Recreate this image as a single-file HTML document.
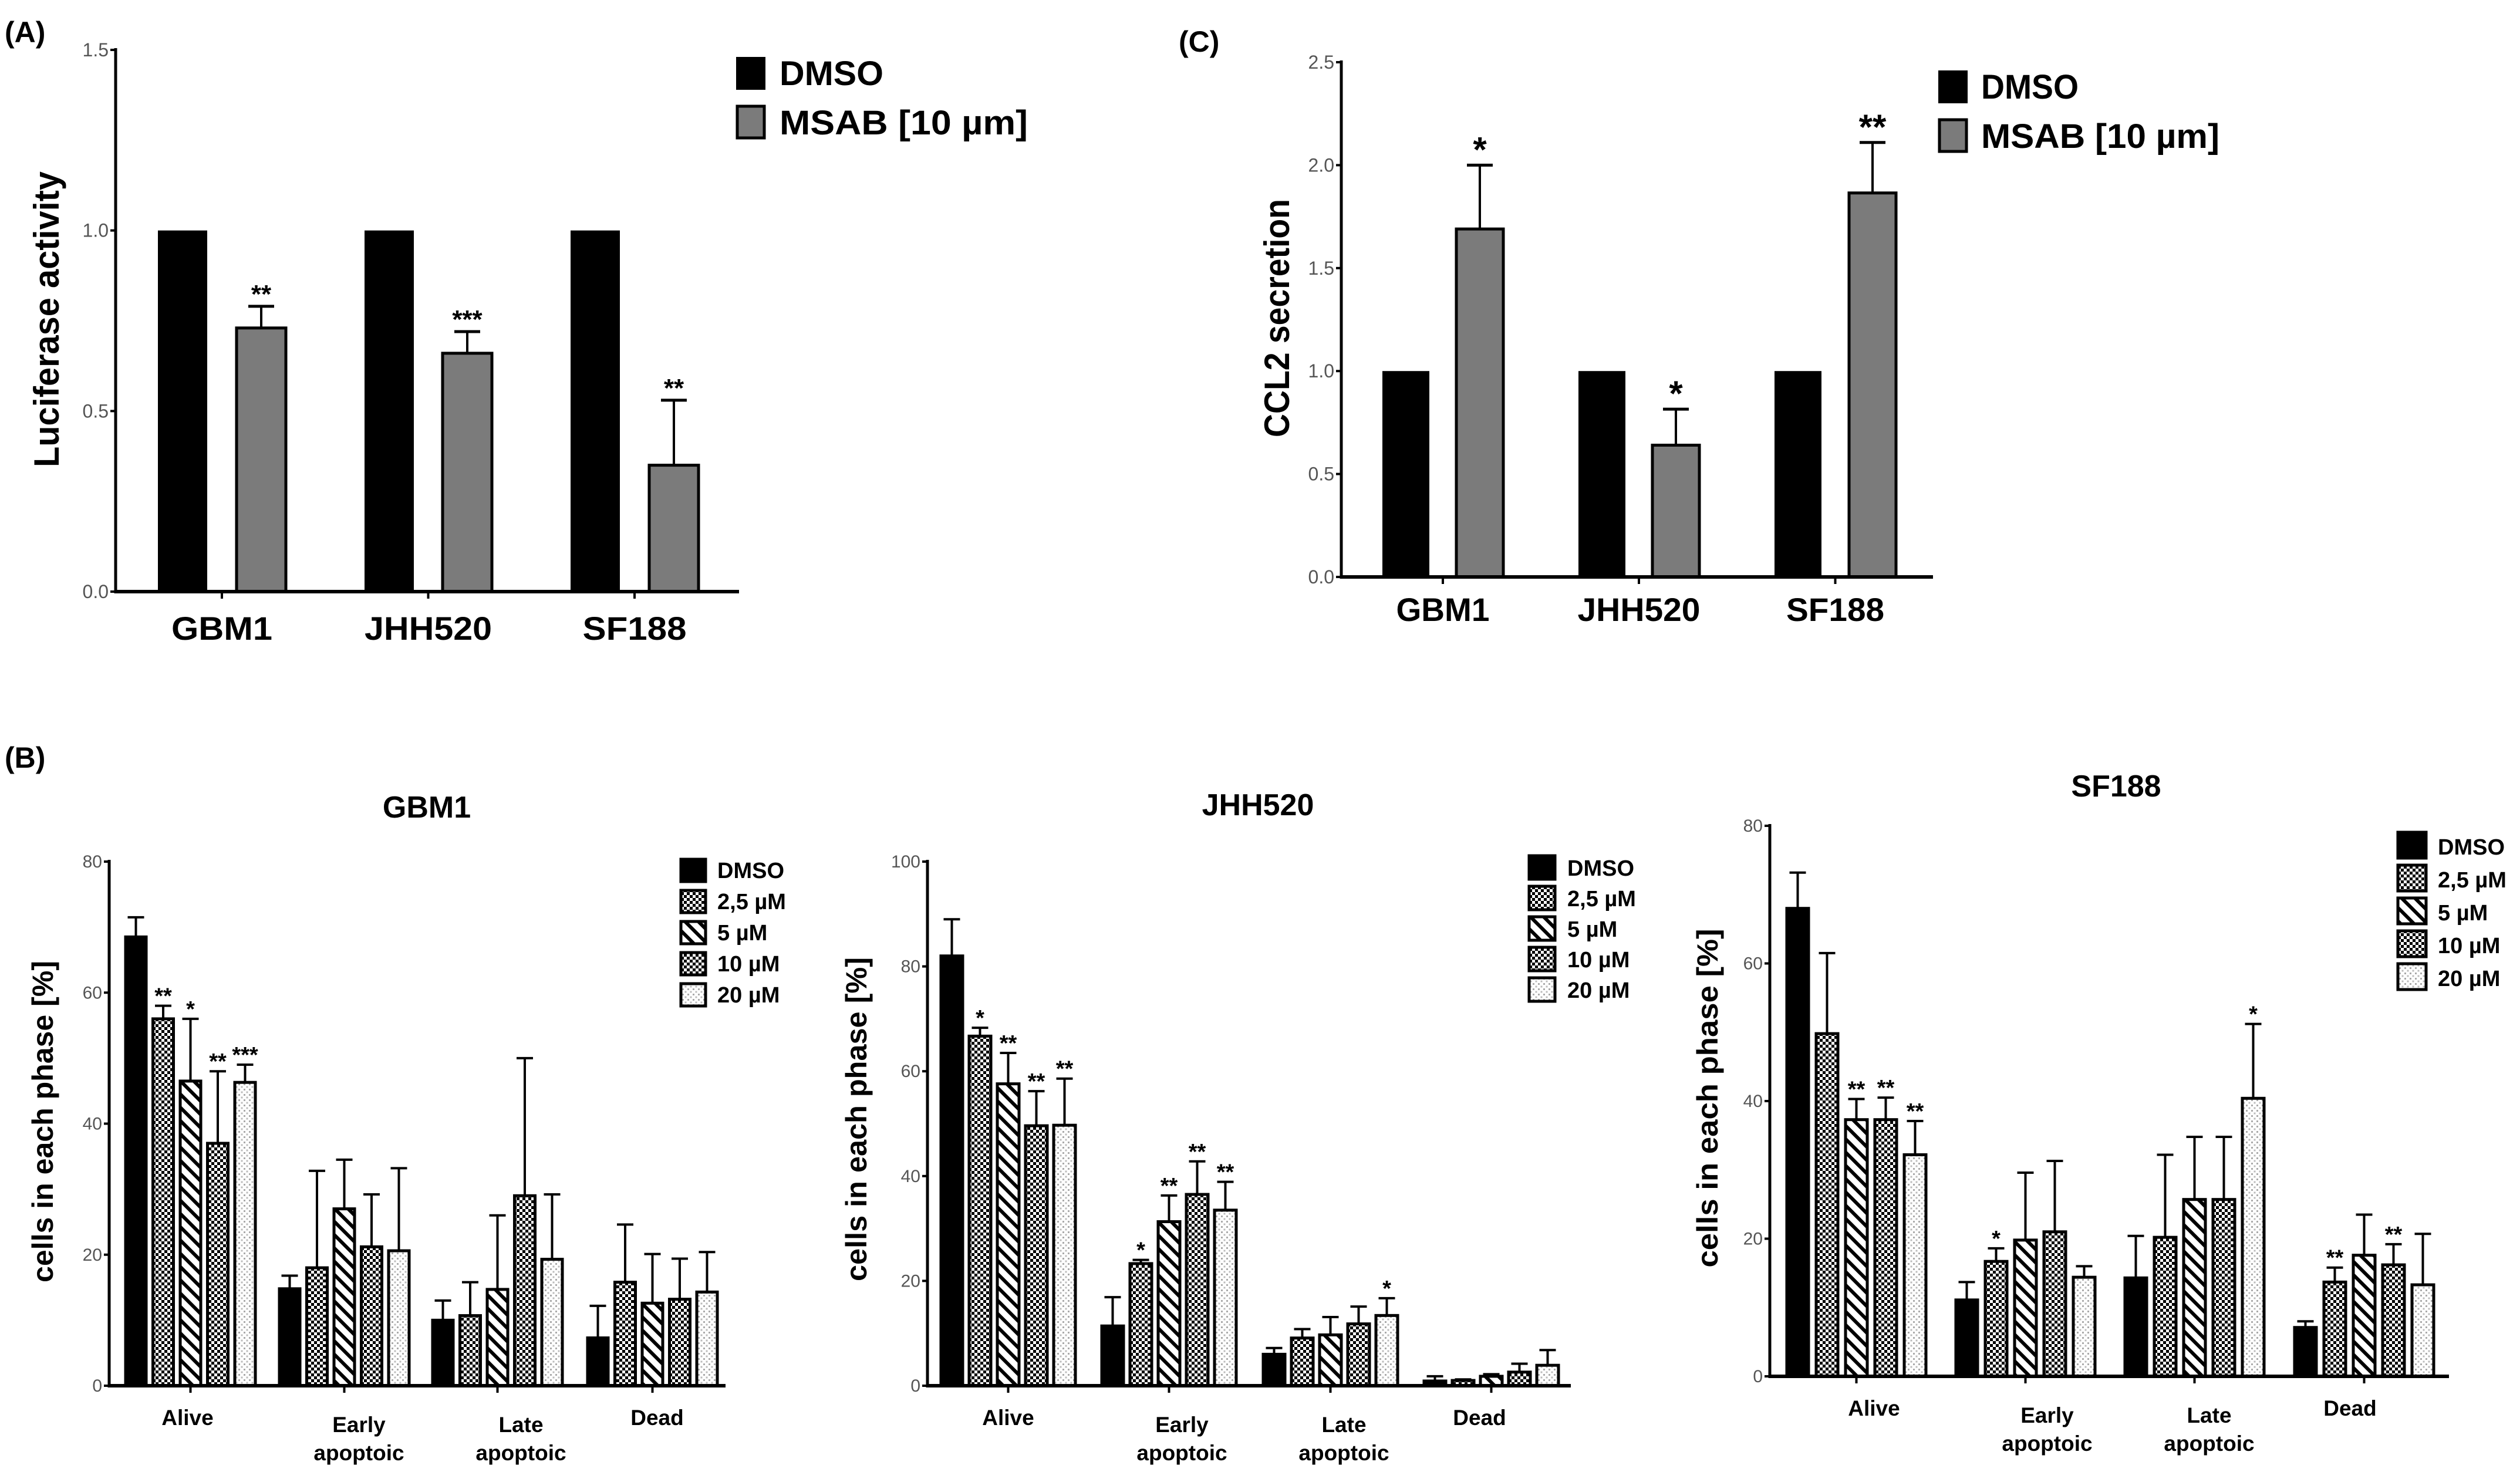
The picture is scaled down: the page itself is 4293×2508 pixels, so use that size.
<!DOCTYPE html>
<html><head><meta charset="utf-8">
<style>
html,body{margin:0;padding:0;background:#fff;}
svg{display:block;}
text{font-family:"Liberation Sans",Arial,sans-serif;}
.narrow{font-family:"Liberation Sans Narrow","Liberation Sans",sans-serif;}
</style></head>
<body>
<svg id="fig" xmlns="http://www.w3.org/2000/svg" width="4293" height="2508" viewBox="0 0 4293 2508">
<defs>
<pattern id="pChk" patternUnits="userSpaceOnUse" width="10" height="10">
<rect width="10" height="10" fill="#fff"/><rect width="5" height="5" fill="#000"/><rect x="5" y="5" width="5" height="5" fill="#000"/>
</pattern>
<pattern id="pHatch" patternUnits="userSpaceOnUse" width="16" height="16" patternTransform="rotate(-45)">
<rect width="16" height="16" fill="#fff"/><rect x="0" y="0" width="6" height="16" fill="#000"/>
</pattern>
<pattern id="pDots" patternUnits="userSpaceOnUse" width="9" height="9">
<rect width="9" height="9" fill="#fff"/><rect x="1" y="1" width="3" height="3" fill="#aaa"/><rect x="5.5" y="5.5" width="3" height="3" fill="#bbb"/>
</pattern>
</defs>
</svg>
<script>
// ---------- Panel A data ----------
const aCategories = ["GBM1","JHH520","SF188"];
const aDmso = [1.0, 1.0, 1.0];
const aMsab = [0.73, 0.66, 0.35];
const aMsabErr = [0.79, 0.72, 0.53];
const aStars = ["**","***","**"];
const aTicks = ["0.0","0.5","1.0","1.5"];
// ---------- Panel C data ----------
const cCategories = ["GBM1","JHH520","SF188"];
const cDmso = [1.0, 1.0, 1.0];
const cMsab = [1.69, 0.64, 1.865];
const cMsabErr = [2.0, 0.815, 2.11];
const cStars = ["*","*","**"];
const cTicks = ["0.0","0.5","1.0","1.5","2.0","2.5"];
// ---------- Panel B data ----------
const bPhases = ["Alive","Early apoptoic","Late apoptoic","Dead"];
const bSeries = ["DMSO","2,5 µM","5 µM","10 µM","20 µM"];
const gbmValues = [[68.5,56,46.5,37,46.3],[14.8,18,27,21.2,20.6],[10,10.7,14.7,29,19.3],[7.3,15.8,12.6,13.2,14.3]];
const gbmErrTop = [[71.5,58,56,48,49],[16.8,32.8,34.5,29.2,33.2],[13,15.8,26,50,29.2],[12.2,24.6,20.1,19.4,20.4]];
const gbmStars = [["","**","*","**","***"],["","","","",""],["","","","",""],["","","","",""]];
const gbmTicks = ["0","20","40","60","80"];
const jhhValues = [[82,66.7,57.6,49.6,49.7],[11.4,23.3,31.3,36.5,33.5],[6,9.1,9.7,11.8,13.4],[0.9,1,1.8,2.6,3.9]];
const jhhErrTop = [[89,68.3,63.5,56.2,58.6],[16.9,24,36.3,42.8,38.9],[7.2,10.8,13.1,15.1,16.7],[1.8,1.2,2.2,4.2,6.8]];
const jhhStars = [["","*","**","**","**"],["","*","**","**","**"],["","","","","*"],["","","","",""]];
const jhhTicks = ["0","20","40","60","80","100"];
const sfValues = [[68,49.8,37.3,37.3,32.2],[11.1,16.7,19.8,21,14.4],[14.3,20.2,25.7,25.7,40.4],[7.1,13.7,17.6,16.2,13.3]];
const sfErrTop = [[73.2,61.5,40.3,40.5,37.1],[13.7,18.6,29.6,31.3,16],[20.4,32.2,34.8,34.8,51.2],[8,15.8,23.5,19.2,20.7]];
const sfStars = [["","","**","**","**"],["","*","",""," "],["","","","","*"],["","**","","**",""]];
const sfTicks = ["0","20","40","60","80"];

const NS = "http://www.w3.org/2000/svg";
const svg = document.getElementById('fig');
function mk(tag, attrs, parent, txt){
  const e = document.createElementNS(NS, tag);
  for (const k in attrs) e.setAttribute(k, attrs[k]);
  if (txt !== undefined) e.textContent = txt;
  (parent || svg).appendChild(e);
  return e;
}
function fit(el, len){
  el.setAttribute('textLength', len);
  el.setAttribute('lengthAdjust', 'spacingAndGlyphs');
}

// ---------- simple two-bar panels (A, C) ----------
function twoBar(cfg){
  const g = mk('g', {});
  
  
  const y = v => cfg.y0 - (v / cfg.yMax) * (cfg.y0 - cfg.yTop);
  const pl = mk('text', {x: cfg.letterX, y: cfg.letterY, 'font-size': 50, 'font-weight': 'bold'}, g, cfg.letter);
  
  
  cfg.ticks.forEach((t, i) => {
    const v = parseFloat(t);
    const tl = mk('text', {x: cfg.axisX - 12, y: y(v) + 11, 'font-size': 32, fill: '#555', 'text-anchor': 'end', class: 'narrow'}, g, t);
    
    
    mk('line', {x1: cfg.axisX - 9, x2: cfg.axisX, y1: y(v), y2: y(v), stroke: '#000', 'stroke-width': 4}, g);
  });
  cfg.cats.forEach((c, i) => {
    const d = mk('rect', {x: cfg.dmsoX[i], y: y(cfg.dmso[i]), width: cfg.barW, height: cfg.y0 - y(cfg.dmso[i]), fill: '#000'}, g);
    
    
    const mx = cfg.msabX[i];
    mk('line', {x1: mx + cfg.barW / 2, x2: mx + cfg.barW / 2, y1: y(cfg.msab[i]), y2: y(cfg.err[i]), stroke: '#000', 'stroke-width': 4}, g);
    mk('line', {x1: mx + cfg.barW / 2 - 22, x2: mx + cfg.barW / 2 + 22, y1: y(cfg.err[i]), y2: y(cfg.err[i]), stroke: '#000', 'stroke-width': 5}, g);
    const m = mk('rect', {x: mx, y: y(cfg.msab[i]), width: cfg.barW, height: cfg.y0 - y(cfg.msab[i]), fill: '#7b7b7b', stroke: '#000', 'stroke-width': 5}, g);
    
    
    const st = mk('text', {x: mx + cfg.barW / 2, y: y(cfg.err[i]) - 6, 'font-size': cfg.starSize, 'font-weight': 'bold', 'text-anchor': 'middle'}, g, cfg.stars[i]);
    
    
    const cx = (cfg.dmsoX[i] + mx + cfg.barW) / 2;
    mk('line', {x1: cx, x2: cx, y1: cfg.y0, y2: cfg.y0 + 12, stroke: '#000', 'stroke-width': 4}, g);
    const cl = mk('text', {x: cx - cfg.catLen[i] / 2, y: cfg.labelY, 'font-size': 56, 'font-weight': 'bold'}, g, c);
    fit(cl, cfg.catLen[i]);
    
    
  });
  const ya = mk('line', {x1: cfg.axisX, x2: cfg.axisX, y1: cfg.yTop - 3, y2: cfg.y0 + 3, stroke: '#000', 'stroke-width': 5}, g);
  
  
  const xa = mk('line', {x1: cfg.axisX, x2: cfg.axisEnd, y1: cfg.y0, y2: cfg.y0, stroke: '#000', 'stroke-width': 6}, g);
  
  
  const yl = mk('text', {x: -cfg.ylabLen / 2, y: 0, 'font-size': 60, 'font-weight': 'bold', transform: `translate(${cfg.ylabX},${cfg.ylabY}) rotate(-90)`}, g, cfg.ylab);
  fit(yl, cfg.ylabLen);
  
  
  const l1 = mk('rect', {x: cfg.legX, y: cfg.legY, width: 50, height: 56, fill: '#000'}, g);
  
  
  const t1 = mk('text', {x: cfg.legTX, y: cfg.legY + 48, 'font-size': 58, 'font-weight': 'bold'}, g, 'DMSO');
  fit(t1, cfg.legLen[0]);
  
  
  const l2 = mk('rect', {x: cfg.legX + 2, y: cfg.legY + cfg.legStep, width: 46, height: 54, fill: '#7b7b7b', stroke: '#000', 'stroke-width': 5}, g);
  
  
  const t2 = mk('text', {x: cfg.legTX, y: cfg.legY + cfg.legStep + 48, 'font-size': 58, 'font-weight': 'bold'}, g, 'MSAB  [10 µm]');
  t2.setAttribute('xml:space', 'preserve');
  fit(t2, cfg.legLen[1]);
  
  
}

twoBar({name: 'panel-a-luciferase-chart', letter: '(A)', letterX: 8, letterY: 72,
  cats: aCategories, dmso: aDmso, msab: aMsab, err: aMsabErr, stars: aStars, ticks: aTicks,
  axisX: 197, y0: 1008, yTop: 85, yMax: 1.5, axisEnd: 1259,
  dmsoX: [269, 621, 972], msabX: [403, 754, 1106], barW: 84, starSize: 44,
  catLen: [172, 217, 177],
  labelY: 1090, ylab: 'Luciferase activity', ylabLen: 504, ylabX: 100, ylabY: 544,
  legX: 1254, legY: 97, legStep: 84, legTX: 1328, legLen: [177, 423]});

twoBar({name: 'panel-c-ccl2-chart', letter: '(C)', letterX: 2008, letterY: 88,
  cats: cCategories, dmso: cDmso, msab: cMsab, err: cMsabErr, stars: cStars, ticks: cTicks,
  axisX: 2285, y0: 983, yTop: 106, yMax: 2.5, axisEnd: 3293,
  dmsoX: [2355, 2689, 3023], msabX: [2481, 2815, 3150], barW: 80, starSize: 60,
  catLen: [159, 209, 167],
  labelY: 1058, ylab: 'CCL2 secretion', ylabLen: 406, ylabX: 2196, ylabY: 542,
  legX: 3302, legY: 120, legStep: 84, legTX: 3375, legLen: [166, 406]});

// ---------- panel B ----------
const fills = ['#000', 'url(#pChk)', 'url(#pHatch)', 'url(#pChk)', 'url(#pDots)'];
function groupPanel(cfg){
  const g = mk('g', {});
  
  
  const y = v => cfg.y0 - (v / cfg.yMax) * (cfg.y0 - cfg.yTop);
  const tt = mk('text', {x: cfg.titleX, y: cfg.titleY, 'font-size': 52, 'font-weight': 'bold', 'text-anchor': 'middle'}, g, cfg.title);
  
  
  cfg.ticks.forEach(t => {
    const v = parseFloat(t);
    const tl = mk('text', {x: cfg.axisX - 12, y: y(v) + 10, 'font-size': 30, fill: '#555', 'text-anchor': 'end', class: 'narrow'}, g, t);
    
    
    mk('line', {x1: cfg.axisX - 9, x2: cfg.axisX, y1: y(v), y2: y(v), stroke: '#000', 'stroke-width': 4}, g);
  });
  bPhases.forEach((p, gi) => {
    const gx = cfg.groupX[gi];
    cfg.values[gi].forEach((v, si) => {
      const bx = gx + si * cfg.step;
      const cx = bx + cfg.barW / 2;
      const et = cfg.err[gi][si];
      mk('line', {x1: cx, x2: cx, y1: y(v), y2: y(et), stroke: '#000', 'stroke-width': 4}, g);
      mk('line', {x1: cx - 14, x2: cx + 14, y1: y(et), y2: y(et), stroke: '#000', 'stroke-width': 4}, g);
      const r = mk('rect', {x: bx, y: y(v), width: cfg.barW, height: cfg.y0 - y(v), fill: fills[si], stroke: '#000', 'stroke-width': 5}, g);
      
      
      const s = cfg.stars[gi][si].trim();
      if (s) {
        const st = mk('text', {x: cx, y: y(et) - 4, 'font-size': 38, 'font-weight': 'bold', 'text-anchor': 'middle'}, g, s);
        
        
      }
    });
    const span = 4 * cfg.step + cfg.barW;
    const tc = gx + span / 2;
    mk('line', {x1: tc, x2: tc, y1: cfg.y0, y2: cfg.y0 + 12, stroke: '#000', 'stroke-width': 4}, g);
    const parts = p.split(' ');
    const lx = tc + cfg.labelDx[gi];
    if (parts.length === 1) {
      const tl = mk('text', {x: lx, y: cfg.y0 + 67, 'font-size': 37, 'font-weight': 'bold', 'text-anchor': 'middle'}, g, p);
      
      
    } else {
      const tl = mk('text', {x: lx, 'font-size': 37, 'font-weight': 'bold', 'text-anchor': 'middle'}, g);
      
      
      mk('tspan', {x: lx, y: cfg.y0 + 79}, tl, parts[0]);
      mk('tspan', {x: lx, y: cfg.y0 + 127}, tl, parts[1]);
    }
  });
  const ya = mk('line', {x1: cfg.axisX, x2: cfg.axisX, y1: cfg.yTop - 3, y2: cfg.y0 + 3, stroke: '#000', 'stroke-width': 5}, g);
  
  
  const xa = mk('line', {x1: cfg.axisX, x2: cfg.axisEnd, y1: cfg.y0, y2: cfg.y0, stroke: '#000', 'stroke-width': 6}, g);
  
  
  const yl = mk('text', {x: -cfg.ylabLen / 2, y: 0, 'font-size': 50, 'font-weight': 'bold', transform: `translate(${cfg.ylabX},${cfg.ylabY}) rotate(-90)`}, g, 'cells in each phase [%]');
  fit(yl, cfg.ylabLen);
  
  
  bSeries.forEach((s, si) => {
    const ly = cfg.legY + si * cfg.legStep;
    const sw = mk('rect', {x: cfg.legX, y: ly, width: cfg.legSize, height: cfg.legSize - 4, fill: fills[si], stroke: '#000', 'stroke-width': 5}, g);
    
    
    const lt = mk('text', {x: cfg.legTX, y: ly + cfg.legSize - 10, 'font-size': 38, 'font-weight': 'bold', class: 'narrow'}, g, s);
    
    
  });
}

const bl = mk('text', {x: 8, y: 1308, 'font-size': 50, 'font-weight': 'bold'}, svg, '(B)');



groupPanel({name: 'panel-b-gbm1-chart', title: 'GBM1', titleX: 727, titleY: 1393,
  values: gbmValues, err: gbmErrTop, stars: gbmStars, ticks: gbmTicks,
  axisX: 186, y0: 2361, yTop: 1468, yMax: 80, axisEnd: 1236,
  groupX: [214, 476, 737, 1001], barW: 35, step: 46.5, labelDx: [-5, 25, 40, 8],
  ylabX: 90, ylabY: 1911, ylabLen: 548, legX: 1160, legY: 1464, legStep: 53, legSize: 42, legTX: 1222});

groupPanel({name: 'panel-b-jhh520-chart', title: 'JHH520', titleX: 2143, titleY: 1389,
  values: jhhValues, err: jhhErrTop, stars: jhhStars, ticks: jhhTicks,
  axisX: 1580, y0: 2361, yTop: 1468, yMax: 100, axisEnd: 2676,
  groupX: [1603, 1877, 2152, 2426], barW: 37, step: 48, labelDx: [0, 22, 23, -20],
  ylabX: 1476, ylabY: 1907, ylabLen: 552, legX: 2605, legY: 1458, legStep: 52, legSize: 44, legTX: 2670});

groupPanel({name: 'panel-b-sf188-chart', title: 'SF188', titleX: 3605, titleY: 1357,
  values: sfValues, err: sfErrTop, stars: sfStars, ticks: sfTicks,
  axisX: 3015, y0: 2345, yTop: 1407, yMax: 80, axisEnd: 4172,
  groupX: [3044, 3332, 3620, 3909], barW: 37, step: 50, labelDx: [30, 37, 25, -24],
  ylabX: 2926, ylabY: 1871, ylabLen: 577, legX: 4085, legY: 1418, legStep: 56, legSize: 48, legTX: 4153});
</script>
</body></html>
